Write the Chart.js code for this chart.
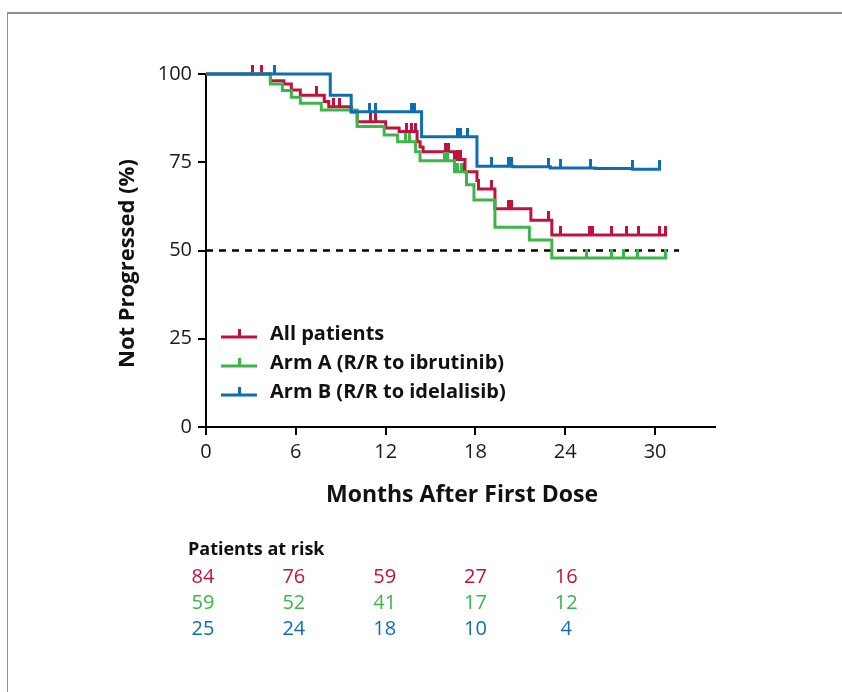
<!DOCTYPE html>
<html><head><meta charset="utf-8">
<script src="https://cdn.jsdelivr.net/npm/chart.js@4/dist/chart.umd.min.js"></script>
<style>
html,body{margin:0;padding:0;background:#fff;}
#wrap{position:relative;width:842px;height:692px;overflow:hidden;background:#fff;}
#frame{position:absolute;left:7px;top:12px;width:850px;height:700px;border-top:2px solid #8f8f8f;border-left:1px solid #8f8f8f;}
canvas{position:absolute;left:0;top:0;}
</style></head>
<body><div id="wrap"><div id="frame"></div><canvas id="c" width="842" height="692"></canvas></div>
<script>
// ---- data ----
const seriesNames = ['All patients', 'Arm A (R/R to ibrutinib)', 'Arm B (R/R to idelalisib)'];
// Kaplan-Meier steps: [month, % not progressed]
const allPatients = [[0,100],[4.3,98.1],[5.2,97.2],[5.7,95.5],[6.3,94],[7.9,92.2],[8.2,90.7],[9.7,89.2],[10.1,86.5],[12.0,84.7],[12.9,83.7],[14.1,80.8],[14.3,79.3],[14.5,78],[16.6,75.8],[17.3,72.3],[18.1,69.8],[18.2,67.4],[19.3,61.8],[21.7,58.6],[23.1,54.4],[30.8,54.4]];
const armA = [[0,100],[4.3,97.2],[5.1,95.3],[5.7,93.4],[6.3,91.7],[7.7,89.8],[10.1,85.1],[11.9,82.7],[12.8,80.8],[14.0,78.0],[14.3,75.4],[16.6,72.3],[17.4,68.6],[17.9,64.3],[19.3,56.6],[21.6,53.0],[23.1,47.9],[30.8,47.9]];
const armB = [[0,100],[8.3,94],[9.7,89.3],[14.4,82.2],[18.1,73.9],[20.5,73.7],[23.0,73.4],[26.0,73.2],[28.5,73.0],[30.4,73.0]];
// censor times (months)
const censorAll = [3.1,3.7,7.4,8.5,8.9,11.0,11.3,13.4,13.7,14.0,16.0,16.2,16.8,17.0,17.3,19.1,20.2,20.4,22.9,23.7,25.6,25.8,27.1,28.1,28.9,30.3,30.7];
const censorA = [13.3,13.6,15.9,16.1,16.8,17.1,25.4,27.1,27.9,28.8,30.7];
const censorB = [4.6,10.9,11.3,13.7,13.9,16.8,17.0,17.5,19.1,20.2,20.4,22.9,23.7,25.7,28.5,30.3];
const refLine = [[0,50],[31.6,50]];
const xTicks = [0,6,12,18,24,30];
const yTicks = [0,25,50,75,100];
const riskMonths = [0,6,12,18,24];
const riskAll = [84,76,59,27,16];
const riskA = [59,52,41,17,12];
const riskB = [25,24,18,10,4];

const xTitle = 'Months After First Dose';
const yTitle = 'Not Progressed (%)';
const riskTitle = 'Patients at risk';

// ---- styles ----
const RED = '#c1123e', GREEN = '#3db54b', BLUE = '#0f6db2';
const FONT = '"Open Sans", "Noto Sans", sans-serif';

function survAt(steps, t){ let v = steps[0][1]; for (const [tt,vv] of steps) if (tt <= t) v = vv; return v; }
function tickImg(color){ const c = document.createElement('canvas'); c.width = 3; c.height = 18; const g = c.getContext('2d'); g.fillStyle = color; g.fillRect(0,0,3,9); return c; }
const toXY = a => a.map(([x,y]) => ({x, y}));
const censorXY = (times, steps) => times.map(t => ({x: t, y: survAt(steps, t)}));

const curves = [
  {data: allPatients, censor: censorAll, color: RED},
  {data: armA, censor: censorA, color: GREEN},
  {data: armB, censor: censorB, color: BLUE}
];
const datasets = [{
  data: toXY(refLine), borderColor: '#000', borderWidth: 2.5, borderDash: [7,6], pointRadius: 0, order: 10, clip: false
}];
curves.forEach((c, i) => {
  datasets.push({data: toXY(c.data), borderColor: c.color, borderWidth: 3, stepped: 'before', pointRadius: 0, order: 5 - i, clip: false});
  datasets.push({data: censorXY(c.censor, c.data), showLine: false, pointStyle: tickImg(c.color), pointRadius: 5, order: 5 - i, clip: false});
});

const overlay = {
  id: 'overlay',
  afterDraw(chart){
    const ctx = chart.ctx, xs = chart.scales.x, ys = chart.scales.y;
    ctx.save();
    // axis titles
    ctx.fillStyle = '#111';
    ctx.font = 'bold 23px ' + FONT;
    ctx.textAlign = 'center'; ctx.textBaseline = 'middle';
    ctx.fillText(xTitle, xs.getPixelForValue(17.1), 495);
    ctx.font = 'bold 22px ' + FONT;
    ctx.save();
    ctx.translate(128, ys.getPixelForValue(46.3));
    ctx.rotate(-Math.PI/2);
    ctx.fillText(yTitle, 0, 0);
    ctx.restore();
    // legend
    const legY = [337, 366, 395];
    ctx.font = 'bold 20px ' + FONT;
    ctx.textAlign = 'left';
    curves.forEach((c, i) => {
      const y = legY[i];
      ctx.strokeStyle = c.color; ctx.lineWidth = 3;
      ctx.beginPath(); ctx.moveTo(221, y); ctx.lineTo(257, y); ctx.stroke();
      ctx.fillStyle = c.color; ctx.fillRect(238, y - 8, 3, 8);
      ctx.fillStyle = '#111';
      ctx.fillText(seriesNames[i], 270, y - 3);
    });
    // risk table
    ctx.font = 'bold 18px ' + FONT;
    ctx.fillStyle = '#111';
    ctx.fillText(riskTitle, 188, 550);
    ctx.font = '20px ' + FONT;
    ctx.textAlign = 'center';
    const rows = [riskAll, riskA, riskB];
    rows.forEach((r, i) => {
      ctx.fillStyle = curves[i].color;
      r.forEach((v, j) => ctx.fillText(String(v), xs.getPixelForValue(riskMonths[j]) - 3 + j, 577 + i * 26));
    });
    ctx.restore();
  }
};

new Chart(document.getElementById('c'), {
  type: 'line',
  data: {datasets},
  options: {
    responsive: false, animation: false,
    layout: {padding: {left: 0, top: 74, right: 127, bottom: 205}},
    plugins: {legend: {display: false}, tooltip: {enabled: false}},
    scales: {
      x: {
        type: 'linear', min: 0, max: 34,
        afterBuildTicks: a => { a.ticks = xTicks.map(v => ({value: v})); },
        afterFit: s => { s.height = 60; },
        grid: {display: true, drawOnChartArea: false, drawTicks: true, tickLength: 8, color: '#000', lineWidth: 2},
        border: {display: true, color: '#000', width: 2},
        ticks: {color: '#1a1a1a', font: {family: FONT, size: 20}, padding: 5}
      },
      y: {
        type: 'linear', min: 0, max: 100,
        afterBuildTicks: a => { a.ticks = yTicks.map(v => ({value: v})); },
        afterFit: s => { s.width = 206; },
        grid: {display: true, drawOnChartArea: false, drawTicks: true, tickLength: 8, color: '#000', lineWidth: 2},
        border: {display: true, color: '#000', width: 2},
        ticks: {color: '#1a1a1a', font: {family: FONT, size: 20}, padding: 6}
      }
    }
  },
  plugins: [overlay]
});
</script>
</body></html>
